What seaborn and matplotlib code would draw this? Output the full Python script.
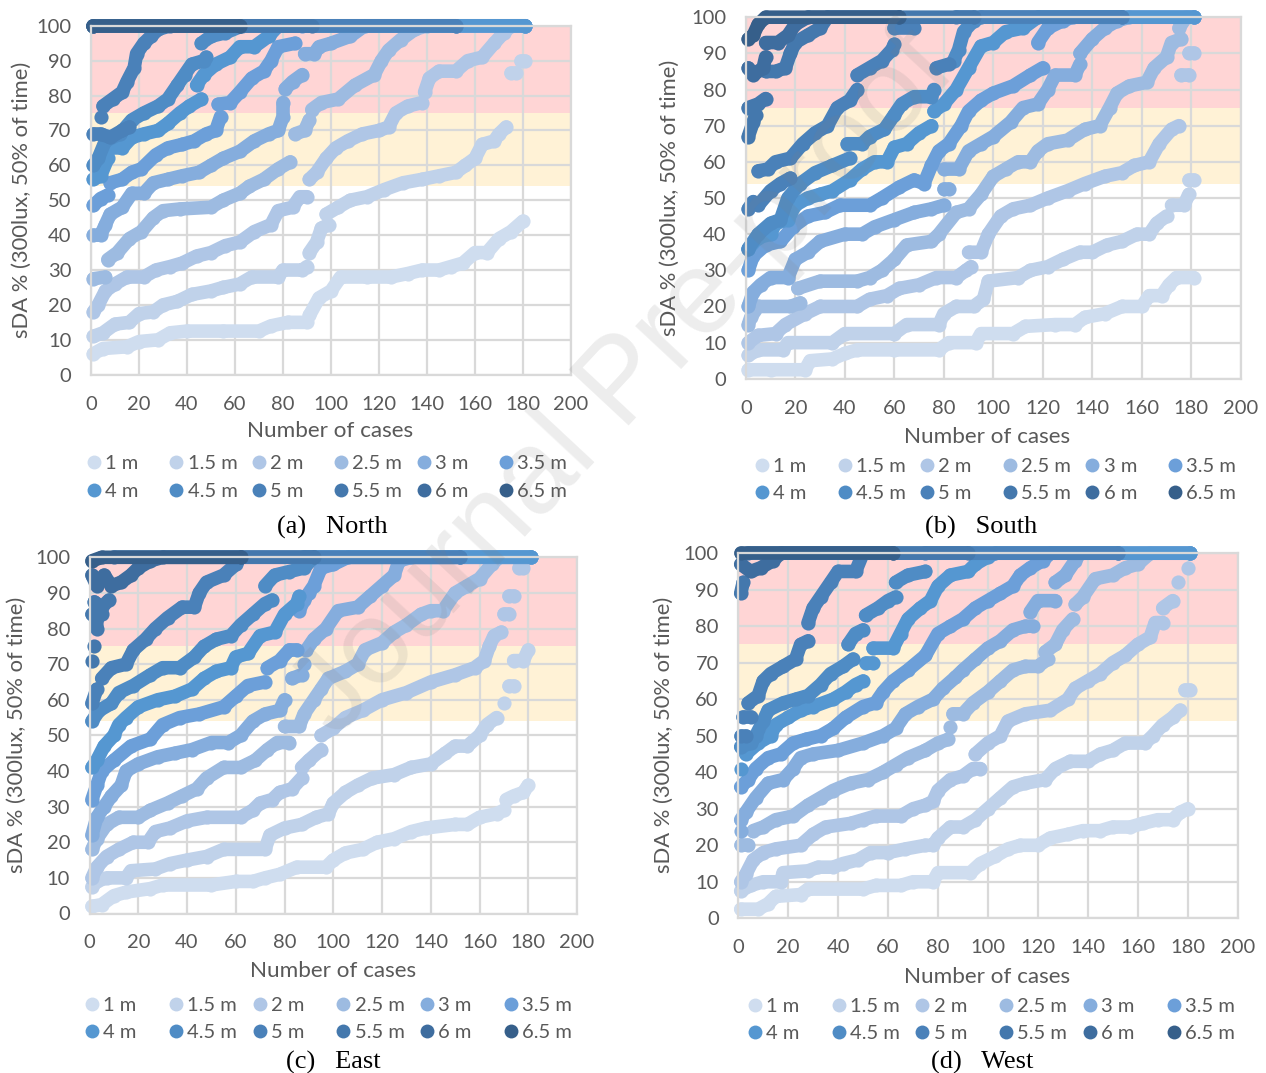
# sDA curves for the four orientations
import matplotlib
matplotlib.use("Agg")
import matplotlib.pyplot as plt
from matplotlib.lines import Line2D
import pandas as pd
import seaborn as sns

W, H = 1266, 1073

depths = ['1 m', '1.5 m', '2 m', '2.5 m', '3 m', '3.5 m', '4 m', '4.5 m', '5 m', '5.5 m', '6 m', '6.5 m']
colours = ['#CFDDEF', '#C0D2EA', '#AFC6E6', '#9DBBE1', '#85ADDD', '#6C9FD9',
           '#5597D1', '#4F8CC5', '#4A81B9', '#4478AD', '#3E6D9F', '#365F8A']
x_ticks = [0, 20, 40, 60, 80, 100, 120, 140, 160, 180, 200]
y_ticks = [0, 10, 20, 30, 40, 50, 60, 70, 80, 90, 100]

# (case, sDA), None = a gap in the curve
north_1m = [(1,6),(5,7.5),(15,8),(20,9.5),(28,10),(33,12),(40,12.5),(55,12.5),(70,12.5),(75,14),(82,15),(90,15),None,
            (91,17),(95,22),(100,24),(104,28),(115,28),(125,28),(132,29),(138,30),(145,30),(150,31),(155,32),(160,35),(165,35),(170,39),(175,41),(180,44)]
north_1_5m = [(1,11),(5,12),(10,14.5),(16,15),(20,17.5),(26,18),(30,20),(36,21),(42,23),(50,24),(55,25),(62,26),(67,28),(78,28),(80,30),(88,30),(90,31),None,
              (91,35),(94,38),(96,42),(99,43),None,(98,46),(103,48),(108,50),(115,51),(122,53),(130,55),(138,56),(145,57),(152,58),(156,60),(160,62),(163,66),(168,67),(170,69),(173,71),None,
              (175,86.5),(177,86.5),None,(179,90),(181,90)]
north_2m = [(1,18),(3,20),(6,24),(10,26),(15,28),(22,28),(27,30),(33,31),(38,32),(44,34),(50,35),(56,37),(62,38),(68,41),(75,43),(78,47),(84,48),(87,51),(90,51),None,
            (91,56),(94,58),(98,62),(102,65),(107,67),(113,69),(120,70),(124,71),(127,75),(132,77),(138,78),None,(139,81),(141,85),(145,87),(152,87),(157,90),(163,91),(168,95),(172,98),(175,100),(181,100)]
north_2_5m = [(1,27.5),(6,28),None,(7,33),(11,35),(16,39),(21,41),(26,45),(30,47),(37,47.5),(50,48),(55,50),(62,52),(66,54),(72,56),(78,59),(83,61),None,
              (85,69),(89,70),(91,73),None,(92,76),(96,78),(103,79),(110,83),(118,86),(121,90),(124,93),(129,96),(135,99),(140,100),(181,100)]
north_3m = [(1,40),(4,40),(6,43),(8,46),(13,48),(17,52),(22,52),(26,55),(32,56),(38,57),(45,58),(50,60),(55,62),(62,64),(68,67),(74,69),(78,70),(80,74),(80,78),None,
            (81,82),(84,84),(88,86),None,(89,92),(93,92),(95,94),(100,95),(108,97),(114,100),(181,100)]
north_3_5m = [(1,48.5),(4,50.5),(7,51.5),None,(8,55),(13,56),(17,58),(21,59),(27,63),(32,65),(38,66),(43,67),(48,69),(52,70),(54,74),None,
              (53,77.5),(58,78),(62,81),(67,85),(72,87),(75,90),(78,94),(85,95),None,(88,100),(181,100)]
north_4m = [(1,56),(4,57),(7,62),None,(8,65),(13,65),(17,68),(22,69),(28,70),(32,72),(37,75),(41,77),(46,79),None,
            (44,83),(47,86),(52,89),(58,91),(62,94),(68,94),(74,97),(78,100),(181,100)]
north_4_5m = [(1,60),(3,62),(6,67),(12,69),(17,73),(22,75),(28,77),(32,79),(36,83),(39,86),(42,89),(47,90),(48,91),None,
              (46,95),(50,97),(56,98),(63,100),(152,100)]
north_5m = [(1,69),(4,69),(8,68),(13,70),(16,71),None,(4,74),None,(5,77),(9,79),(13,81),(15,84),(18,88),(19,92),(22,95),(25,97),(28,99),(33,100),(152,100)]
north_5_5m = [(1,100),(92,100)]
north_6m = [(1,100),(62,100)]
north_6_5m = [(1,100),(62,100)]

south_1m = [(1,2.5),(10,2.5),(24,2.5),(26,5),(35,5.5),(40,7),(45,8),(60,8),(78,8),(82,10),(93,10),(95,12.5),(108,12.5),(113,14.5),(125,15),(133,15),(137,17),(145,18),(152,20),(160,20),(163,23),(168,23),(171,26),(174,28),(181,28)]
south_1_5m = [(1,6.5),(5,8),(15,8),(17,10),(35,10),(40,12.5),(60,12.5),(65,15),(78,15),(80,18),(85,20),(92,20),(96,22),(98,27),(110,28),(115,30),(122,31),(128,33),(135,35),(140,35),(146,37),(152,38),(158,40),(163,40),(166,43),(170,45),None,
              (172,48),(177,48),(179,51),None,(179,55),(181,55)]
south_2m = [(1,10),(5,12),(12,12.5),(16,15),(24,18),(30,20),(45,20),(50,22),(57,23),(62,25),(70,26),(77,28),(85,28),(89,30),(91,31),None,
            (90,35),(95,35),(98,40),(103,45),(108,47),(115,48),(122,50),(130,52),(137,54),(145,56),(152,57),(157,59),(163,60),(167,65),(172,69),(175,70),None,(176,84),(179,84),None,(179,90),(181,90)]
south_2_5m = [(1,15),(2,17),(5,20),(18,20),(22,21),None,(21,25),(30,27),(45,27),(50,28),(55,30),(60,33),(65,37),(75,38),(78,40),(85,46),(90,47),(95,51),(100,56),(105,58),(110,60),(115,60),(118,63),(122,65),(130,66),(137,69),(143,70),(147,75),(150,79),(155,81),(162,82),(165,86),(170,89),(172,93),(176,94),None,(175,97),(178,100),(181,100)]
south_3m = [(1,20),(3,24),(6,26),(10,28),(17,28),(20,33),(25,35),(30,38),(40,40),(47,40),(52,42),(60,44),(68,46),(75,47),(80,48),None,(80,52.5),(82,52.5),None,
            (80,58),(86,58),(90,63),(95,65),(100,67),(107,71),(112,75),(118,76),(122,80),(125,84),(133,84),(135,87),None,(135,90),(140,94),(145,97),(150,99),(155,100),(181,100)]
south_3_5m = [(1,30),(3,34),(8,37),(14,38),(19,42),(25,45),(32,46),(38,48),(50,48),(55,50),(62,53),(68,55),(72,54),(75,59),(78,63),(82,65),(87,70),(90,74),(95,77),(100,79),(108,81),(115,84),(120,86),None,
              (118,93),(122,97),(128,99),(132,100),(181,100)]
south_4m = [(1,36),(5,39),(10,40),(12,43),(17,44),(20,48),(25,50),(30,51),(35,52),(42,55),(47,58),(52,60),(57,60),(60,64),(65,65),(70,68),(75,70),None,
            (76,74),(80,76),(85,80),(90,86),(95,92),(100,93),(105,96),(112,97),(118,100),(181,100)]
south_4_5m = [(1,36),(5,40),(10,43),(14,44),(17,50),(22,54),(28,57),(35,59),(42,61),None,(41,65),(47,65),(50,67),(56,69),(60,73),(63,76),(68,78),(75,78),(76,80),None,
              (84,88),(86,91),(88,96),(92,99),(95,100),(152,100)]
south_5m = [(1,47),(3,49),(5,48),(10,52),(14,54),(18,55.5),None,(5,57.5),(9,58),(12,60),(18,61),(23,65),(28,68),(33,70),(37,75),(42,77),(45,80),None,
            (45,84),(50,86),(55,88),(59,91),(60,92.5),None,(60,97),(68,97),None,(77,86),(82,87),None,(85,100),(152,100)]
south_5_5m = [(1,67),(3,71),(4,73),None,(1,75),(5,76),(8,77.5),None,(8,85),(12,85),(16,86),(18,90),(20,93),(25,95),(30,97),(33,100),(92,100)]
south_6m = [(1,86),(3,84),(7,86),(8,89),None,(8,93),(13,93),(17,95),(20,98),(25,100),(62,100)]
south_6_5m = [(1,94),(3,95),(5,98),(8,100),(62,100)]

east_1m = [(1,2),(5,2.5),(10,5),(15,6),(25,7),(30,8),(50,8),(60,9),(67,9),(72,10),(78,11),(85,13),(97,13),(100,15),(105,17),(112,18),(118,20),(125,21),(132,23),(138,24),(150,25),(155,25),(160,27),(167,28),(170,29),None,(171,32),(174,33),(178,34),(180,36)]
east_1_5m = [(1,7.5),(3,9),(7,10),(15,10),(17,12),(27,12.5),(33,14),(40,15),(48,16),(55,18),(72,18),(74,22),(80,24),(87,25),(93,27),(98,28),(100,31),(105,34),(110,36),(116,38),(125,39),(132,41),(140,42),(146,45),(150,47),(155,47),(160,50),(163,53),(167,55),None,
             (170,59),None,(172,64),(174,64),None,(174,71),(178,71),(180,74)]
east_2m = [(1,10),(3,13),(7,16),(12,18),(18,20),(24,20),(27,23),(33,24),(40,26),(48,27),(62,27),(67,29),(70,31),(75,32),(78,34),(83,35),(87,38),None,(87,41),(90,43),(95,46),None,
           (95,50),(100,52),(105,55),(112,57),(120,60),(130,62),(140,65),(150,67),(158,69),(162,71),(164,75),(166,78),(169,79),None,(170,84),(172,84),None,(172,89),(174,89),None,(176,97),(178,97)]
east_2_5m = [(1,18),(3,21),(7,25),(12,27),(20,27),(25,29),(32,31),(38,33),(44,35),(48,38),(55,41),(62,41),(68,43),(73,46),(77,48),(82,48),None,
             (80,52.5),(86,52.5),(88,56),(92,60),(95,63),(98,66),(105,68),(110,70),(113,74),(120,76),(125,79),(130,81),(136,84),(140,85),(145,85),(150,90),(155,92),(160,94),(165,98),(168,100),(181,100)]
east_3m = [(1,22),(3,27),(6,30),(9,33),(13,36),(15,40),(20,42),(28,44),(35,45),(42,46),(50,48),(57,48),(62,50),(67,54),(72,56),(78,57),(80,60),None,(83,66),(87,67),None,(88,70),None,
           (89,74),(92,77),(97,80),(102,85),(110,86),(115,89),(120,92),(125,95),(127,99),(132,100),(181,100)]
east_3_5m = [(1,32),(3,36),(5,40),(10,43),(17,47),(25,49),(30,53),(37,55),(45,56),(55,58),(60,61),(65,64),(72,65),None,(73,69),(78,71),(82,74),(85,74),None,
             (86,85),(88,88),(90,90),(92,92),(95,97),(100,98),(106,100),(181,100)]
east_4m = [(1,41),(3,43),(6,47),(10,50),(12,53),(15,55),(20,58),(28,60),(35,61),(42,63),(47,66),(52,68),(58,69),(60,72),(65,73),(70,78),(76,79),(80,84),(85,87),(86,89),None,(88,100),(181,100)]
east_4_5m = [(1,54),(4,57),(9,59),(12,62),(18,64),(25,67),(30,69),(37,69),(43,72),(47,75),(52,77),(58,78),(62,81),(67,84),(72,87),(75,88),None,(72,92),(76,95),(82,96),(88,97),(92,100),(152,100)]
east_5m = [(1,59),(3,63),None,(5,66),(9,69),(15,70),(18,74),(23,77),(27,80),(32,83),(38,86),(43,86),(45,90),(48,93),(55,95),(60,98),(62,100),(152,100)]
east_5_5m = [(1,71),None,(2,75),None,(3,80),(3,83),(1,84),(5,84),None,(2,87.5),(5,86),(8,88),None,(10,100),(92,100)]
east_6m = [(1,95),(3,92),(6,95),(9,92),(13,93),(17,95),(20,97),(25,99),(30,100),(62,100)]
east_6_5m = [(1,99),(5,100),(62,100)]

west_1m = [(1,2.5),(8,2.5),(12,4),(15,6),(25,6.5),(28,8),(50,8),(55,9),(65,9),(70,10),(78,10),(80,12.5),(93,12.5),(97,15),(103,17),(108,19),(113,20),(120,20),(125,22),(132,23),(138,24),(145,24),(150,25),(157,25),(162,26),(168,27),(174,27),(177,29),(180,30)]
west_1_5m = [(1,7.5),(5,9),(10,10),(17,10),(18,12.5),(28,13),(32,14),(38,14),(42,15),(48,16),(53,18),(60,18),(67,19),(75,20),(78,20),(80,22),(85,25),(90,25),(95,27),(100,30),(105,33),(110,36),(115,37),(123,38),(127,41),(133,43),(140,43),(145,45),(150,46),(155,48),(163,48),(166,50),(170,53),(174,55),(177,57),None,(179,62.5),(181,62.5)]
west_2m = [(1,10),(3,12),(6,16),(10,18),(15,19),(25,20),(30,23),(35,25),(45,26),(50,27),(55,28),(65,28),(70,30),(75,31),(78,32),(80,35),(85,38),(90,39),(94,41),(97,41),None,
           (95,45),(100,48),(105,50),(108,54),(115,56),(125,57),(132,60),(135,63),(140,65),(145,67),(150,70),(155,72),(160,75),(165,77),(167,81),(170,81),None,(170,85),(174,87),None,(176,92),None,(180,96)]
west_2_5m = [(1,20),(4,20),None,(6,24),(10,25),(15,27),(22,28),(28,31),(33,33),(38,35),(45,37),(52,38),(58,40),(63,42),(68,44),(75,46),(80,48),(84,49),None,(85,52.5),None,
             (86,56),(90,56),(94,59),(100,62),(105,65),(110,68),(115,69),(120,69),(124,71),None,(123,73),(127,75),(130,79),(134,82),None,(135,86),(138,88),(143,93),(150,94),(155,96),(160,97),(165,100),(181,100)]
west_3m = [(1,24),None,(1,27),(3,29),(7,33),(12,37),(18,38),(22,41),(25,44),(30,45),(40,46),(50,48),(58,50),(63,52),(67,56),(72,58),(78,60),(82,63),(87,66),(90,68),(95,71),(100,74),(105,76),(110,79),(115,80),(118,80),None,
           (117,84),(120,87),(127,87),None,(127,92),(131,94),(135,98),(137,100),(181,100)]
west_3_5m = [(1,36),(4,38),(7,41),(12,44),(17,45),(22,48),(27,49),(33,50),(38,52),(43,55),(50,58),(55,59),(58,62),(62,65),(68,68),(75,72),(80,78),(85,80),(90,82),(95,85),(100,87),(105,89),(110,91),(113,94),(117,96),(122,98),(125,100),(181,100)]
west_4m = [(1,41),None,(3,45),(8,48),(13,50),(15,53),(20,55),(25,57),(30,58),(38,60),(43,62),(47,64),(50,65),None,(51,70),(54,70),None,(54,74),(62,74),(65,78),(68,82),(73,85),(77,87),(80,91),(85,94),(92,95),(95,97),(100,99),(103,100),(181,100)]
west_4_5m = [(1,47),(5,48),(7,50),(10,54),(12,57),(18,59),(23,60),(28,61),(33,64),(37,67),(42,69),(46,71),None,(44,75),(47,78),(50,79),None,(51,83),(56,85),(60,87),(63,88),None,(63,92),(68,94),(75,95),None,(75,100),(152,100)]
west_5m = [(1,50),(3,50),None,(2,55),(5,55),None,(4,59),(8,61),(10,65),(13,67),(18,69),(23,71),(25,75),(28,76),None,(28,81),(30,85),(33,88),(37,92),(40,95),(47,95),(50,100),(152,100)]
west_5_5m = [(1,89),(2,92),None,(4,100),(92,100)]
west_6m = [(1,97),(5,95),(9,96),(14,98),(17,100),(62,100)]
west_6_5m = [(1,100),(62,100)]

north = [north_1m, north_1_5m, north_2m, north_2_5m, north_3m, north_3_5m, north_4m, north_4_5m, north_5m, north_5_5m, north_6m, north_6_5m]
south = [south_1m, south_1_5m, south_2m, south_2_5m, south_3m, south_3_5m, south_4m, south_4_5m, south_5m, south_5_5m, south_6m, south_6_5m]
east = [east_1m, east_1_5m, east_2m, east_2_5m, east_3m, east_3_5m, east_4m, east_4_5m, east_5m, east_5_5m, east_6m, east_6_5m]
west = [west_1m, west_1_5m, west_2m, west_2_5m, west_3m, west_3_5m, west_4m, west_4_5m, west_5m, west_5_5m, west_6m, west_6_5m]

# layout in pixels of the reference
panels = [
    dict(data=north, box=(91, 571, 25.8, 374.7), ylab=(22, 200), xlab=(330, 431), cap=(332, 527), title='(a)   North',
         leg=(94, 82.4, 464.5, 490.5)),
    dict(data=south, box=(745.8, 1240.8, 17.2, 378.8), ylab=(670, 198), xlab=(987, 437), cap=(981, 527), title='(b)   South',
         leg=(762, 82.6, 467, 493)),
    dict(data=east, box=(89.5, 577, 557.3, 913.5), ylab=(17, 735), xlab=(333, 971), cap=(333, 1062), title='(c)   East',
         leg=(92, 83.8, 1005.5, 1032.6)),
    dict(data=west, box=(738.2, 1237.6, 553.2, 918.3), ylab=(664, 735), xlab=(987, 977), cap=(982, 1062), title='(d)   West',
         leg=(755, 83.7, 1006.8, 1033)),
]

sns.set_theme(style="whitegrid")
plt.rcParams['font.family'] = ['Lato', 'DejaVu Sans']
grey = '#595959'
palette = dict(zip(depths, colours))


def to_frame(series):
    rows = []
    seg = 0
    for depth, pts in zip(depths, series):
        for p in pts:
            if p is None:
                seg += 1
                continue
            rows.append((depth, seg, p[0], p[1]))
        seg += 1
    return pd.DataFrame(rows, columns=['depth', 'seg', 'case', 'sda'])


def fx(x):
    return x / W


def fy(y):
    return 1 - y / H


fig = plt.figure(figsize=(W / 100, H / 100), dpi=100)

for p in panels:
    x0, x1, y_top, y_bot = p['box']
    ax = fig.add_axes([fx(x0), fy(y_bot), (x1 - x0) / W, (y_bot - y_top) / H])
    ax.axhspan(75, 100, color='#FFD5D5', lw=0, zorder=0.1)
    ax.axhspan(54, 75, color='#FFF2D6', lw=0, zorder=0.1)
    sns.lineplot(data=to_frame(p['data']), x='case', y='sda', hue='depth', hue_order=depths, palette=palette,
                 units='seg', estimator=None, sort=False, legend=False, ax=ax, marker='o', markersize=10.2,
                 markeredgewidth=0, clip_on=False, solid_capstyle='round', solid_joinstyle='round')
    # lineplot keeps its own width, so set it on the finished lines
    for line in ax.get_lines():
        line.set_linewidth(9.8)
    ax.set_xlim(0, 200)
    ax.set_ylim(0, 100)
    ax.set_xticks(x_ticks)
    ax.set_yticks(y_ticks)
    ax.set_axisbelow(True)
    ax.grid(True, color='#D9D9D9', lw=1.6)
    for s in ax.spines.values():
        s.set_color('#D9D9D9')
        s.set_linewidth(1.6)
    ax.tick_params(axis='both', length=0, labelsize=14.5, labelcolor=grey)
    ax.tick_params(axis='x', pad=15)
    ax.tick_params(axis='y', pad=14)
    ax.set_xlabel('')
    ax.set_ylabel('')
    fig.text(fx(p['ylab'][0]), fy(p['ylab'][1]), 'sDA % (300lux, 50% of time)', rotation=90, ha='center', va='center',
             fontsize=15.8, color=grey)
    fig.text(fx(p['xlab'][0]), fy(p['xlab'][1]), 'Number of cases', ha='center', va='center', fontsize=16.2, color=grey)
    fig.text(fx(p['cap'][0]), fy(p['cap'][1]), p['title'], ha='center', va='center', fontsize=19, color='black',
             family='Liberation Serif')

    # six single column legends, the reference spaces its columns evenly
    lx, step, row1, row2 = p['leg']
    for i in range(6):
        handles = [Line2D([], [], ls='', marker='o', ms=10, mew=0, color=colours[j], label=depths[j]) for j in (i, i + 6)]
        fig.legend(handles=handles, loc='center left', ncol=1, frameon=False, fontsize=14.5, labelcolor=grey,
                   bbox_to_anchor=(fx(lx + i * step - 10), fy((row1 + row2) / 2)), bbox_transform=fig.transFigure,
                   borderpad=0, borderaxespad=0, handlelength=1, handletextpad=0.05, labelspacing=0.5)

fig.text(fx(625), fy(385), 'Journal Pre-proof', rotation=47, ha='center', va='center', rotation_mode='anchor',
         fontsize=85, color='#808080', alpha=0.14, family='Liberation Sans')

fig.savefig('out.png', dpi=100)
